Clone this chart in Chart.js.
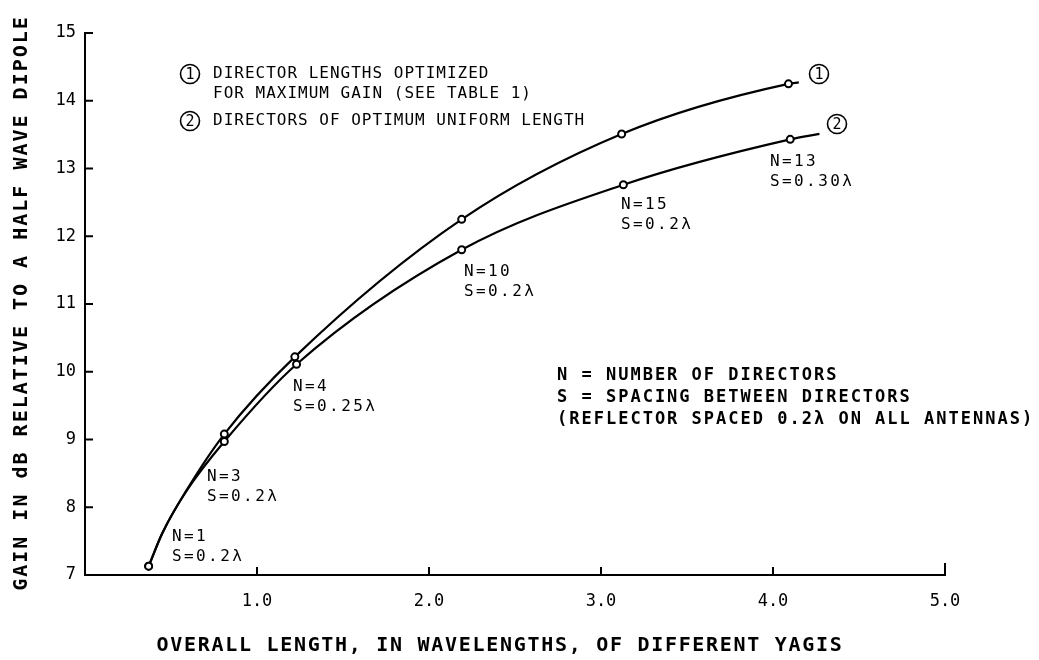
<!DOCTYPE html>
<html>
    <head>
        <title>Yagi gain vs overall length</title>
        <script src="https://cdn.jsdelivr.net/npm/chart.js"></script>
    </head>

    <body>
        <div style="width: 1039px; height: 660px;"><canvas id="gainChart" width="1039" height="660"></canvas></div>
        <script>
            // 값은 그림에서 읽은 것. 마커 없는 점: 곡선 위에서 읽은 점 / 선 끝
            const lenOptimized = [0.37, 0.45, 0.59, 0.81, 1.22, 2.19, 3.12, 4.09, 4.15];
            const gainOptimized = [7.13, 7.62, 8.25, 9.08, 10.22, 12.25, 13.51, 14.25, 14.27];
            const markOptimized = [1, 0, 0, 1, 1, 1, 1, 1, 0];
            const lenUniform = [0.37, 0.45, 0.59, 0.81, 1.23, 2.19, 3.13, 4.10, 4.27];
            const gainUniform = [7.13, 7.62, 8.24, 8.97, 10.11, 11.80, 12.76, 13.43, 13.51];
            const markUniform = [1, 0, 0, 1, 1, 1, 1, 1, 0];
            const xTicks = [1, 2, 3, 4, 5];
            const yTicks = [7, 8, 9, 10, 11, 12, 13, 14, 15];

            const xTitle = 'OVERALL LENGTH, IN WAVELENGTHS, OF DIFFERENT YAGIS';
            const yTitle = 'GAIN IN dB RELATIVE TO A HALF WAVE DIPOLE';
            const pointLabels = [
                ['N=1', 'S=0.2λ', 172, 537],
                ['N=3', 'S=0.2λ', 207, 477],
                ['N=4', 'S=0.25λ', 293, 387],
                ['N=10', 'S=0.2λ', 464, 272],
                ['N=15', 'S=0.2λ', 621, 205],
                ['N=13', 'S=0.30λ', 770, 162]
            ];
            const notes = [
                'N = NUMBER OF DIRECTORS',
                'S = SPACING BETWEEN DIRECTORS',
                '(REFLECTOR SPACED 0.2λ ON ALL ANTENNAS)'
            ];

            const MONO = '"DejaVu Sans Mono"';

            function toXY(xs, ys) {
                return xs.map((x, i) => ({x: x, y: ys[i]}));
            }

            function circled(ctx, cx, cy, num) {
                ctx.beginPath();
                ctx.arc(cx, cy, 9.5, 0, Math.PI * 2);
                ctx.lineWidth = 1.6;
                ctx.stroke();
                ctx.letterSpacing = '0px';
                ctx.font = '15px ' + MONO;
                ctx.textAlign = 'center';
                ctx.fillText(num, cx, cy + 1);
            }

            const decor = {
                id: 'decor',
                beforeDraw(chart) {
                    const c = chart.ctx;
                    c.save();
                    c.fillStyle = '#fff';
                    c.fillRect(0, 0, chart.width, chart.height);
                    c.restore();
                },
                afterDraw(chart) {
                    const c = chart.ctx;
                    const xs = chart.scales.x, ys = chart.scales.y;
                    c.save();
                    c.strokeStyle = '#000';
                    c.fillStyle = '#000';
                    c.lineWidth = 2;

                    // 안쪽 눈금
                    yTicks.slice(1).forEach(v => {
                        const py = ys.getPixelForValue(v);
                        c.beginPath();
                        c.moveTo(xs.left, py);
                        c.lineTo(xs.left + 8, py);
                        c.stroke();
                    });
                    xTicks.forEach(v => {
                        const px = xs.getPixelForValue(v);
                        c.beginPath();
                        c.moveTo(px, ys.bottom);
                        c.lineTo(px, ys.bottom - (v == 5 ? 12 : 8));
                        c.stroke();
                    });

                    c.textBaseline = 'middle';

                    // 축 제목
                    c.font = 'bold 20px ' + MONO;
                    c.letterSpacing = '1.7px';
                    c.textAlign = 'center';
                    c.fillText(xTitle, 500, 646);
                    c.save();
                    c.translate(22, 303);
                    c.rotate(-Math.PI / 2);
                    c.letterSpacing = '2px';
                    c.fillText(yTitle, 0, 0);
                    c.restore();

                    // 범례
                    circled(c, 190, 74, '1');
                    circled(c, 190, 121, '2');
                    c.font = '16px ' + MONO;
                    c.letterSpacing = '1px';
                    c.textAlign = 'left';
                    c.fillText('DIRECTOR LENGTHS OPTIMIZED', 213, 74);
                    c.fillText('FOR MAXIMUM GAIN (SEE TABLE 1)', 213, 94);
                    c.fillText('DIRECTORS OF OPTIMUM UNIFORM LENGTH', 213, 121);

                    // 곡선 번호
                    circled(c, 819, 74, '1');
                    circled(c, 837, 124, '2');

                    // 점 라벨
                    c.font = '16px ' + MONO;
                    c.letterSpacing = '2.4px';
                    c.textAlign = 'left';
                    pointLabels.forEach(p => {
                        c.fillText(p[0], p[2], p[3]);
                        c.fillText(p[1], p[2], p[3] + 20);
                    });

                    // 설명
                    c.font = 'bold 17px ' + MONO;
                    c.letterSpacing = '2px';
                    notes.forEach((t, i) => c.fillText(t, 557, 376 + i * 22));

                    c.restore();
                }
            };

            function curve(label, xs, ys, marks) {
                return {
                    label: label,
                    data: toXY(xs, ys),
                    borderColor: '#000',
                    borderWidth: 2.2,
                    pointRadius: marks.map(m => m ? 3.5 : 0),
                    pointBorderWidth: 2,
                    pointBackgroundColor: '#fff',
                    pointBorderColor: '#000',
                    cubicInterpolationMode: 'monotone'
                };
            }

            const ctx = document.getElementById('gainChart');
            const chart = new Chart(ctx, {
                type: 'line',
                data: {
                    datasets: [
                        curve('optimized', lenOptimized, gainOptimized, markOptimized),
                        curve('uniform', lenUniform, gainUniform, markUniform)
                    ]
                },
                options: {
                    responsive: false,
                    animation: false,
                    layout: {
                        padding: {top: 33, right: 94, bottom: 0, left: 0}
                    },
                    plugins: {
                        legend: {display: false},
                        tooltip: {enabled: false}
                    },
                    scales: {
                        x: {
                            type: 'linear',
                            min: 0,
                            max: 5,
                            afterBuildTicks: s => { s.ticks = xTicks.map(v => ({value: v})); },
                            afterFit: s => { s.height = 85; },
                            grid: {drawOnChartArea: false, drawTicks: false},
                            border: {display: true, color: '#000', width: 2},
                            ticks: {
                                padding: 16,
                                color: '#000',
                                font: {family: 'DejaVu Sans Mono', size: 17},
                                maxRotation: 0,
                                callback: v => v.toFixed(1)
                            }
                        },
                        y: {
                            min: 7,
                            max: 15,
                            afterBuildTicks: s => { s.ticks = yTicks.map(v => ({value: v})); },
                            afterFit: s => { s.width = 85; },
                            grid: {drawOnChartArea: false, drawTicks: false},
                            border: {display: true, color: '#000', width: 2},
                            ticks: {
                                padding: 9,
                                color: '#000',
                                font: {family: 'DejaVu Sans Mono', size: 17}
                            }
                        }
                    }
                },
                plugins: [decor]
            });
        </script>
    </body>
</html>

<style>
    body {
        margin: 0;
        background: #fff;
    }
</style>
